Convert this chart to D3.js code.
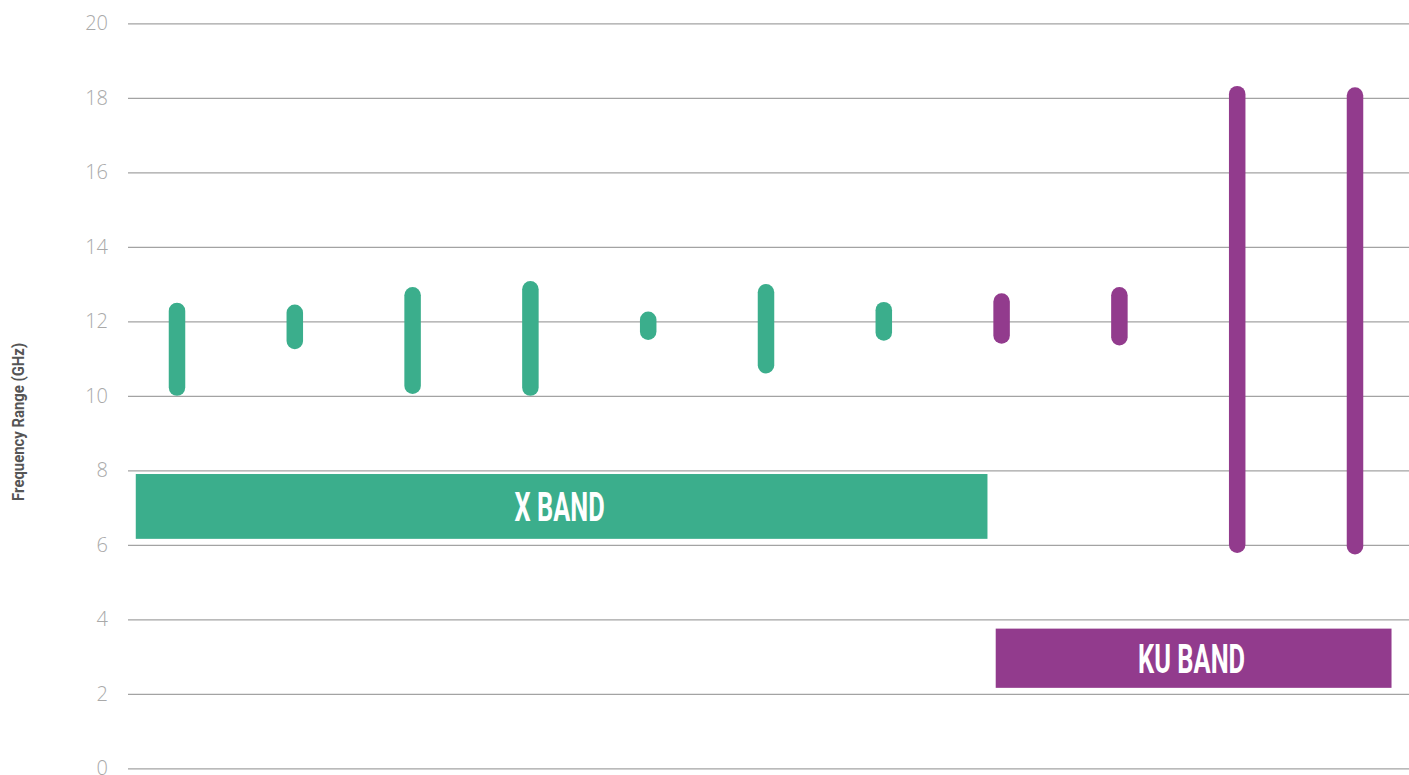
<!DOCTYPE html>
<html>
<head>
<meta charset="utf-8">
<script src="https://cdn.jsdelivr.net/npm/d3@7"></script>
<style>
  html, body { margin: 0; padding: 0; background: #fff; }
  svg { display: block; }
</style>
</head>
<body>
<svg id="chart" width="1409" height="775"></svg>
<script>
// ---- data ----
const categories = ["P1","P2","P3","P4","P5","P6","P7","P8","P9","P10","P11"];
const lowValues  = [10.0, 11.25, 10.05, 10.0, 11.5, 10.6, 11.48, 11.4, 11.35, 5.78, 5.74];
const highValues = [12.5, 12.45, 12.92, 13.08, 12.26, 13.0, 12.52, 12.75, 12.92, 18.32, 18.28];
const bandOfBar  = ["X","X","X","X","X","X","X","KU","KU","KU","KU"];
const yTicks = [0, 2, 4, 6, 8, 10, 12, 14, 16, 18, 20];
const bandNames = ["X BAND", "KU BAND"];
const bandKeys  = ["X", "KU"];
const bandLow   = [6.16, 2.16];
const bandHigh  = [7.9, 3.75];
const bandFromIdx = [-0.35, 6.95];   // in category-index units
const bandToIdx   = [6.88, 10.31];
const yTitle = "Frequency Range (GHz)";

// ---- styles ----
const colors = { X: "#3bae8c", KU: "#923b8d" };

const svg = d3.select("#chart");
const y = d3.scaleLinear().domain([0, 20]).range([768.3, 23.3]);
const x = d3.scalePoint().domain(categories).range([177, 1355]);
const xi = d3.scaleLinear().domain([0, categories.length - 1]).range([177, 1355]);

// gridlines + tick labels via axis
const axis = d3.axisLeft(y).tickValues(yTicks).tickSize(-(1409 - 128)).tickPadding(20).tickFormat(d3.format("d"));
const gAxis = svg.append("g").attr("transform", "translate(128,0)").call(axis);
gAxis.select(".domain").remove();
gAxis.selectAll(".tick line").attr("stroke", "#a3a3a3").attr("stroke-width", 1.3);
gAxis.selectAll(".tick text")
  .attr("fill", "#a9a9a9")
  .style("font-family", "'Open Sans', Lato, sans-serif")
  .style("font-weight", 300)
  .style("font-size", "20px");

// y title
svg.append("text")
  .attr("transform", `translate(24, ${y(9.3)}) rotate(-90)`)
  .attr("text-anchor", "middle")
  .attr("fill", "#555")
  .attr("textLength", 158)
  .attr("lengthAdjust", "spacingAndGlyphs")
  .style("font-family", "'Liberation Sans Narrow', 'Roboto', sans-serif")
  .style("font-weight", 700)
  .style("font-size", "16px")
  .text(yTitle);

// band rects
const bands = bandNames.map((n, i) => ({ name: n, key: bandKeys[i], lo: bandLow[i], hi: bandHigh[i], from: bandFromIdx[i], to: bandToIdx[i] }));
const gb = svg.append("g");
gb.selectAll("rect").data(bands).join("rect")
  .attr("x", d => xi(d.from))
  .attr("width", d => xi(d.to) - xi(d.from))
  .attr("y", d => y(d.hi))
  .attr("height", d => y(d.lo) - y(d.hi))
  .attr("fill", d => colors[d.key]);
gb.selectAll("text").data(bands).join("text")
  .attr("x", d => (xi(d.from) + xi(d.to)) / 2 - 2)
  .attr("y", d => (y(d.lo) + y(d.hi)) / 2)
  .attr("dy", "0.36em")
  .attr("text-anchor", "middle")
  .attr("fill", "#fff")
  .attr("textLength", d => d.key === "X" ? 90 : 107)
  .attr("lengthAdjust", "spacingAndGlyphs")
  .style("font-family", "'Liberation Sans Narrow', 'Roboto', sans-serif")
  .style("font-weight", 700)
  .style("font-size", "40px")
  .text(d => d.name);

// range bars
const bars = categories.map((c, i) => ({ c, lo: lowValues[i], hi: highValues[i], band: bandOfBar[i] }));
const bw = 16.5;
svg.append("g").selectAll("rect").data(bars).join("rect")
  .attr("x", d => x(d.c) - bw / 2)
  .attr("width", bw)
  .attr("y", d => y(d.hi))
  .attr("height", d => y(d.lo) - y(d.hi))
  .attr("rx", bw / 2)
  .attr("ry", bw / 2)
  .attr("fill", d => colors[d.band]);
</script>
</body>
</html>
